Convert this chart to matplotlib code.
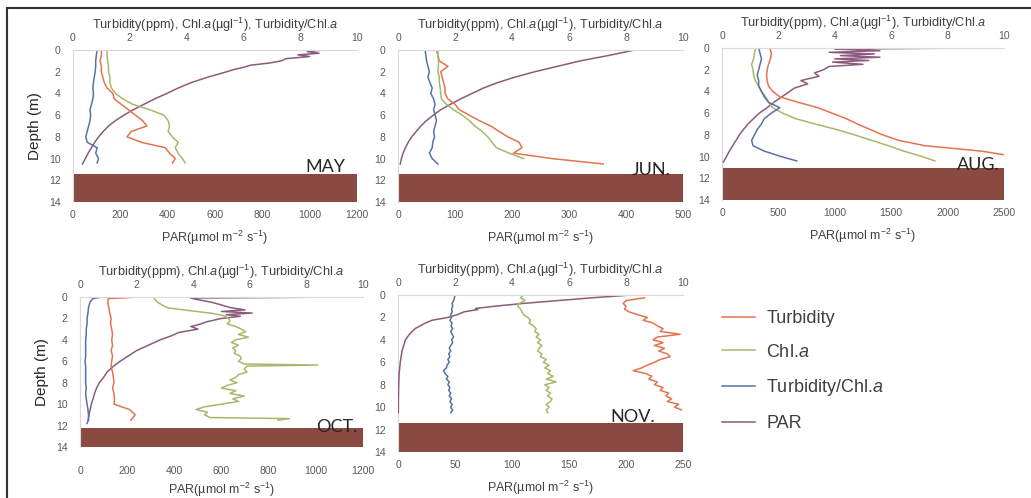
import numpy as np
import matplotlib
matplotlib.use("Agg")
from matplotlib import pyplot as plt
from matplotlib.patches import Rectangle

plt.rcParams['font.family'] = ['Liberation Sans', 'DejaVu Sans']
plt.rcParams['mathtext.fontset'] = 'custom'
plt.rcParams['mathtext.rm'] = 'Liberation Sans'
plt.rcParams['mathtext.it'] = 'Liberation Sans:italic'

# ---- data (depth in m) ----
may_depth = [0, 0.5, 1, 1.5, 2, 2.5, 3, 3.5, 4, 4.5, 5, 5.5, 6, 6.5, 7, 7.5, 8, 8.5, 9, 9.5, 10, 10.4]
may_turb = [1.0, 1.0, 0.95, 1.0, 1.0, 1.05, 1.1, 1.2, 1.4, 1.45, 1.7, 1.95, 2.2, 2.45, 2.6, 2.05, 1.9, 2.4, 3.25, 3.4, 3.6, 3.5]
may_chl = [1.2, 1.2, 1.22, 1.25, 1.25, 1.3, 1.3, 1.35, 1.5, 1.75, 2.1, 2.7, 3.2, 3.35, 3.4, 3.35, 3.5, 3.7, 3.6, 3.7, 3.85, 3.95]
may_ratio = [0.85, 0.82, 0.8, 0.8, 0.78, 0.75, 0.72, 0.7, 0.72, 0.7, 0.65, 0.6, 0.62, 0.6, 0.55, 0.5, 0.45, 0.5, 0.85, 0.8, 0.9, 0.85]
may_par_depth = [0, 0.15, 0.3, 0.45, 0.6, 0.8, 1.0, 1.2, 1.4, 1.6, 1.8, 2.0, 2.5, 3.0, 3.5, 4.0, 4.5, 5.0, 5.5,
                 6.0, 6.5, 7.0, 7.5, 8.0, 8.5, 9.0, 9.5, 10.0, 10.5]
may_par = [1060, 990, 1040, 950, 1000, 900, 880, 830, 750, 720, 680, 650, 570, 500, 445, 397, 345, 300, 255,
           215, 180, 150, 128, 108, 92, 78, 64, 52, 40]

jun_depth = [0, 0.5, 1, 1.5, 2, 2.5, 3, 3.5, 4, 4.5, 5, 5.5, 6, 6.5, 7, 7.5, 8, 8.5, 9, 9.5, 10, 10.5]
jun_turb = [1.35, 1.4, 1.45, 1.75, 1.5, 1.55, 1.6, 1.65, 1.65, 1.75, 2.0, 2.15, 2.5, 2.85, 3.25, 3.55, 3.85, 4.25, 4.35, 4.05, 5.4, 7.2]
jun_chl = [1.4, 1.4, 1.42, 1.42, 1.4, 1.45, 1.45, 1.48, 1.5, 1.52, 1.7, 1.95, 2.25, 2.5, 2.7, 2.95, 3.15, 3.3, 3.45, 3.9, 4.4, np.nan]
jun_ratio = [0.95, 0.98, 1.0, 1.05, 1.1, 1.05, 1.12, 1.2, 1.15, 1.25, 1.3, 1.25, 1.3, 1.35, 1.3, 1.25, 1.28, 1.22, 1.2, 1.1, 1.2, 1.4]
jun_par_depth = jun_depth
jun_par = [415, 370, 320, 280, 240, 205, 175, 150, 130, 110, 92, 75, 62, 50, 40, 32, 24, 18, 13, 9, 6, 4]

aug_depth = [0, 0.5, 1, 1.5, 2, 2.5, 3, 3.5, 4, 4.5, 5, 5.5, 6, 6.5, 7, 7.5, 8, 8.5, 9, 9.5, 10, 10.4]
aug_turb = [1.7, 1.75, 1.72, 1.65, 1.6, 1.58, 1.6, 1.65, 1.8, 2.05, 2.7, 3.4, 3.9, 4.4, 4.8, 5.25, 5.7, 6.25, 7.2, 9.2, 10.4, np.nan]
aug_chl = [1.2, 1.15, 1.12, 1.05, 1.1, 1.12, 1.18, 1.3, 1.4, 1.55, 1.65, 1.8, 2.15, 2.6, 3.3, 4.05, 4.7, 5.3, 5.9, 6.45, 7.1, 7.55]
aug_ratio = [1.3, 1.35, 1.4, 1.35, 1.3, 1.25, 1.3, 1.3, 1.4, 1.5, 1.65, 2.05, 1.75, 1.5, 1.4, 1.25, 1.15, 1.05, 1.1, 1.5, 2.1, 2.65]
aug_par_depth = [0, 0.1, 0.25, 0.4, 0.55, 0.7, 0.85, 1.0, 1.15, 1.3, 1.5, 1.7, 2.0, 2.3, 2.6, 3.0, 3.3, 3.7, 4.0,
                 4.5, 5.0, 5.5, 6.0, 6.5, 7.0, 7.5, 8.0, 8.5, 9.0, 9.5, 10.0, 10.5]
aug_par = [2250, 1000, 1400, 950, 1350, 1050, 1400, 1000, 1300, 980, 1250, 950, 900, 820, 860, 700, 760, 640, 600,
           530, 460, 400, 330, 280, 230, 190, 155, 125, 95, 65, 40, 12]

oct_depth = [0, 0.15, 0.5, 1, 1.5, 2, 2.5, 3, 3.5, 4, 4.5, 5, 5.5, 6, 6.5, 7, 7.5, 8, 8.5, 9, 9.5, 10, 10.5, 11, 11.5]
oct_turb = [2.1, 1.0, 0.98, 1.02, 1.05, 1.1, 1.08, 1.12, 1.15, 1.12, 1.15, 1.1, 1.15, 1.12, 1.1, 1.15, 1.18, 1.2,
            1.15, 1.2, 1.22, 1.2, 1.75, 1.95, 1.8]
oct_ratio = [0.8, 0.45, 0.35, 0.3, 0.28, 0.25, 0.25, 0.22, 0.22, 0.2, 0.2, 0.2, 0.2, 0.18, 0.2, 0.2, 0.2, 0.2,
             0.22, 0.2, 0.22, 0.25, 0.28, 0.3, 0.3]
oct_chl_depth = [0, 0.25, 0.5, 0.75, 1.0, 1.25, 1.5, 1.75, 2.0, 2.25, 2.5, 2.75, 3.0, 3.25, 3.5, 3.75, 4.0, 4.25,
                 4.5, 4.75, 5.0, 5.25, 5.5, 5.75, 6.0, 6.25, 6.35, 6.45, 6.75, 7.0, 7.25, 7.5, 7.75, 8.0, 8.25,
                 8.5, 8.75, 9.0, 9.25, 9.5, 9.75, 10.0, 10.25, 10.5, 10.75, 11.0, 11.25, 11.35, 11.5]
oct_chl = [2.6, 2.65, 2.75, 2.9, 3.1, 3.8, 4.6, 5.1, 5.25, 5.3, 5.2, 5.5, 5.7, 5.85, 5.6, 5.95, 5.5, 5.35,
           5.6, 5.4, 5.5, 5.45, 5.65, 5.7, 5.6, 5.8, 8.4, 5.9, 5.8, 5.9, 5.6, 5.5, 5.3, 5.55, 5.2,
           5.0, 5.5, 5.3, 5.8, 5.4, 5.6, 5.0, 4.4, 4.1, 4.5, 4.4, 4.6, 7.4, 7.0]
oct_par_depth = [0, 0.1, 0.25, 0.5, 0.75, 1.0, 1.2, 1.35, 1.5, 1.65, 1.8, 2.0, 2.3, 2.6, 2.75, 3.0, 3.3, 3.6, 4.0,
                 4.5, 5.0, 5.5, 6.0, 6.5, 7.0, 7.5, 8.0, 8.5, 9.0, 9.5, 10.0, 10.5, 11.0, 11.5, 11.8]
oct_par = [1140, 470, 500, 560, 600, 640, 700, 600, 730, 620, 680, 600, 540, 500, 470, 500, 420, 390, 340,
           290, 240, 205, 170, 140, 115, 100, 82, 70, 62, 55, 48, 43, 38, 35, 30]

nov_depth = [0, 0.25, 0.5, 0.75, 1.0, 1.25, 1.5, 1.75, 2.0, 2.25, 2.5, 2.75, 3.0, 3.25, 3.5, 3.75, 4.0, 4.25,
             4.5, 4.75, 5.0, 5.25, 5.5, 5.75, 6.0, 6.25, 6.5, 6.75, 7.0, 7.25, 7.5, 7.75, 8.0, 8.25, 8.5,
             8.75, 9.0, 9.25, 9.5, 9.75, 10.0, 10.25, 10.5]
nov_ratio = [2.0, 1.98, 1.95, 1.9, 1.92, 1.88, 1.9, 1.85, 1.88, 1.82, 1.9, 1.86, 1.92, 1.85, 1.9, 1.95, 1.88, 1.92,
             1.85, 1.8, 1.85, 1.78, 1.82, 1.75, 1.8, 1.72, 1.7, 1.6, 1.65, 1.75, 1.7, 1.8, 1.75, 1.82, 1.78,
             1.85, 1.8, 1.88, 1.82, 1.9, 1.85, 1.92, 1.85]
nov_chl = [4.4, 4.3, 4.45, 4.25, 4.2, 4.3, 4.35, 4.4, 4.55, 4.65, 4.6, 4.75, 4.85, 4.8, 4.95, 4.85, 5.0, 4.9,
           5.05, 4.95, 4.9, 5.05, 5.0, 5.2, 5.1, 5.3, 5.15, 5.35, 5.25, 5.45, 5.2, 5.55, 5.15, 5.3, 5.2,
           5.35, 5.25, 5.4, 5.35, 5.2, 5.3, 5.2, 5.25]
nov_turb = [np.nan, 8.65, 8.0, 7.9, 8.0, 7.95, 8.1, 8.4, 8.75, 8.6, 8.95, 9.1, 9.3, 9.2, 9.9, 9.1, 8.95, 9.3,
            9.0, 9.35, 9.15, 9.45, 9.55, 9.2, 9.0, 8.75, 8.55, 8.25, 8.7, 8.9, 8.8, 9.1, 9.0, 9.3, 9.2,
            9.5, 9.4, 9.6, 9.45, 9.85, 9.7, 9.95, np.nan]
nov_par_depth = [0, 0.25, 0.5, 0.75, 1.0, 1.2, 1.3, 1.5, 1.75, 2.0, 2.25, 2.5, 3, 3.5, 4, 4.5, 5, 6, 7, 8, 9, 10, 10.5]
nov_par = [205, 170, 140, 110, 85, 68, 70, 58, 52, 44, 30, 24, 15, 10, 6.5, 5, 3.5, 2, 1, 0.6, 0.4, 0.3, 0.3]

months = ["MAY", "JUN.", "AUG.", "OCT.", "NOV."]
par_max = [1200, 500, 2500, 1200, 250]
par_ticks = [[0, 200, 400, 600, 800, 1000, 1200], [0, 100, 200, 300, 400, 500],
             [0, 500, 1000, 1500, 2000, 2500], [0, 200, 400, 600, 800, 1000, 1200],
             [0, 50, 100, 150, 200, 250]]
sediment_top = [11.4, 11.4, 11.05, 12.2, 11.4]

W, H = 1031, 498
boxes = [(73, 357, 50, 202), (398, 683, 50, 202), (722, 1004, 48, 200),
         (80, 363, 297, 447), (398, 683, 295, 452)]
bottom_pad = [6, 6, 6, 14, 6]
xlabel_pad = [6, 6, 6, 3, 6]
month_x = [0.958, 0.955, 0.986, 0.979, 0.902]
month_base = [11.23, 11.5, 11.23, 12.6, 11.33]

c_turb = '#E3744F'
c_chl = '#A8B86A'
c_ratio = '#5A70AC'
c_par = '#8C5A7C'
c_sed = '#8A4A42'
grey = '#595959'
axis_grey = '#D9D9D9'

top_label = r"Turbidity(ppm), Chl.$\it{a}$(µgl$^{-1}$), Turbidity/Chl.$\it{a}$"
par_label = r"PAR(µmol m$^{-2}$ s$^{-1}$)"

panels = [
    (may_depth, may_turb, may_chl, may_ratio, may_par_depth, may_par),
    (jun_depth, jun_turb, jun_chl, jun_ratio, jun_par_depth, jun_par),
    (aug_depth, aug_turb, aug_chl, aug_ratio, aug_par_depth, aug_par),
    (oct_depth, oct_turb, (oct_chl_depth, oct_chl), oct_ratio, oct_par_depth, oct_par),
    (nov_depth, nov_turb, nov_chl, nov_ratio, nov_par_depth, nov_par),
]

fig = plt.figure(figsize=(W / 100, H / 100), dpi=100)
fig.patch.set_facecolor('white')

legend_handles = None
for i, (depth, turb, chl, ratio, pdepth, par) in enumerate(panels):
    l, r, t, b = boxes[i]
    ax = fig.add_axes([l / W, 1 - b / H, (r - l) / W, (b - t) / H])
    ax2 = ax.twiny()

    ax.set_ylim(14, 0)
    ax.set_xlim(0, par_max[i])
    ax.set_xticks(par_ticks[i])
    ax.set_yticks(range(0, 15, 2))
    ax2.set_xlim(0, 10)
    ax2.set_xticks(range(0, 11, 2))

    ax.axhspan(sediment_top[i], 14, color=c_sed, zorder=1, lw=0)
    hp, = ax.plot(par, pdepth, color=c_par, lw=1.1, zorder=3)

    if isinstance(chl, tuple):
        chl_d, chl_v = chl
    else:
        chl_d, chl_v = depth, chl
    ht, = ax2.plot(turb, depth, color=c_turb, lw=1.1)
    hc, = ax2.plot(chl_v, chl_d, color=c_chl, lw=1.1)
    hr, = ax2.plot(ratio, depth, color=c_ratio, lw=1.1)
    if legend_handles is None:
        legend_handles = [ht, hc, hr, hp]

    for a in (ax, ax2):
        for s in a.spines.values():
            s.set_visible(False)
        a.tick_params(length=0, labelsize=7.5, labelcolor=grey)
    ax.spines['left'].set_visible(True)
    ax.spines['left'].set_color(axis_grey)
    ax2.spines['top'].set_visible(True)
    ax2.spines['top'].set_color(axis_grey)
    ax.tick_params(axis='y', pad=9)
    ax.tick_params(axis='x', pad=bottom_pad[i])
    ax2.tick_params(axis='x', pad=5)

    ax2.set_xlabel(top_label, fontsize=9.2, color='#404040', labelpad=3)
    ax.set_xlabel(par_label, fontsize=9, color='#404040', labelpad=xlabel_pad[i])
    if i in (0, 3):
        ax.set_ylabel("Depth (m)", fontsize=11, color='#262626', labelpad=5)

    ax2.text(month_x[i], month_base[i], months[i], transform=ax.get_yaxis_transform(),
             ha='right', va='baseline', fontsize=13, color='#262626',
             family=['Lato', 'DejaVu Sans'], zorder=10)

fig.legend(legend_handles, ["Turbidity", r"Chl.$\it{a}$", r"Turbidity/Chl.$\it{a}$", "PAR"],
           loc='upper left', bbox_to_anchor=(722 / W, 1 - 310 / H), frameon=False,
           fontsize=13, handlelength=1.85, handletextpad=0.6, labelspacing=0.92,
           borderpad=0, borderaxespad=0, labelcolor='#404040')

fig.add_artist(Rectangle((7 / W, -0.01), 1.0, 1 - 8 / H + 0.01, transform=fig.transFigure,
                         fill=False, edgecolor='#333333', lw=1.5))

fig.savefig("out.png", dpi=100)
